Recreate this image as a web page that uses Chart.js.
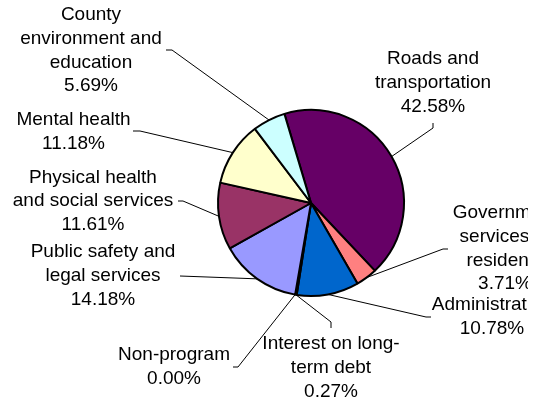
<!DOCTYPE html>
<html><head><meta charset="utf-8">
<script src="https://cdn.jsdelivr.net/npm/chart.js@4.4.0/dist/chart.umd.min.js"></script>
<style>html,body{margin:0;padding:0;background:#fff;overflow:hidden}</style>
</head><body>
<canvas id="c" width="542" height="402"></canvas>
<script>
// ---- data ----
const categories = ["Roads and transportation", "Government services to residents", "Administration",
  "Interest on long-term debt", "Non-program", "Public safety and legal services",
  "Physical health and social services", "Mental health", "County environment and education"];
const values = [42.58, 3.71, 10.78, 0.27, 0.00, 14.18, 11.61, 11.18, 5.69];
const labelLines = [["Roads and", "transportation"], ["Government", "services to", "residents"], ["Administration"],
  ["Interest on long-", "term debt"], ["Non-program"], ["Public safety and", "legal services"],
  ["Physical health", "and social services"], ["Mental health"], ["County", "environment and", "education"]];

// ---- styles / layout ----
const colors = ["#660066", "#FF8080", "#0066CC", "#CCCCFF", "#000080", "#9999FF", "#993366", "#FFFFCC", "#CCFFFF"];
const labelLayout = [
  {x: 433, y: 59,  path: [[433, 123], [433, 128]]},
  {x: 505, y: 213, path: [[448, 249], [443, 249]]},
  {x: 492, y: 305, path: [[431, 317], [426, 317]]},
  {x: 331, y: 344, path: [[331, 328], [331, 322]]},
  {x: 174, y: 355, path: [[233, 367], [238, 367]]},
  {x: 103, y: 252, path: [[180, 276]]},
  {x: 93,  y: 177.5, path: [[178, 201], [183, 201]]},
  {x: 73.5, y: 120, path: [[133, 131], [140, 131]]},
  {x: 91,  y: 15,  path: [[166, 50], [172, 50]]}
];
const LINE_H = 23.7;
const FONT = '19px "Liberation Sans", Arial, sans-serif';

const labelPlugin = {
  id: 'outLabels',
  afterDraw(chart) {
    const ctx = chart.ctx;
    const meta = chart.getDatasetMeta(0);
    ctx.save();
    ctx.strokeStyle = '#000';
    ctx.lineWidth = 1;
    meta.data.forEach((arc, i) => {
      const p = arc.getProps(['x', 'y', 'startAngle', 'endAngle', 'outerRadius'], true);
      const mid = (p.startAngle + p.endAngle) / 2;
      const ex = p.x + Math.cos(mid) * p.outerRadius;
      const ey = p.y + Math.sin(mid) * p.outerRadius;
      const L = labelLayout[i];
      ctx.beginPath();
      ctx.moveTo(L.path[0][0], L.path[0][1]);
      for (let k = 1; k < L.path.length; k++) ctx.lineTo(L.path[k][0], L.path[k][1]);
      ctx.lineTo(ex, ey);
      ctx.stroke();
    });
    ctx.beginPath();
    ctx.rect(0, 0, 528, 402);
    ctx.clip();
    ctx.fillStyle = '#000';
    ctx.font = FONT;
    ctx.textAlign = 'center';
    ctx.textBaseline = 'middle';
    values.forEach((v, i) => {
      const L = labelLayout[i];
      const lines = labelLines[i].concat([v.toFixed(2) + '%']);
      lines.forEach((t, k) => ctx.fillText(t, L.x, L.y + k * LINE_H));
    });
    ctx.restore();
  }
};

new Chart(document.getElementById('c'), {
  type: 'pie',
  data: {
    labels: categories,
    datasets: [{
      data: values,
      backgroundColor: colors,
      borderColor: '#000',
      borderWidth: 2,
      hoverOffset: 0
    }]
  },
  options: {
    responsive: false,
    animation: false,
    rotation: -16.6,
    layout: {padding: {left: 217, right: 137, top: 109, bottom: 105}},
    plugins: {legend: {display: false}, tooltip: {enabled: false}},
    events: []
  },
  plugins: [labelPlugin]
});
</script>
</body></html>
